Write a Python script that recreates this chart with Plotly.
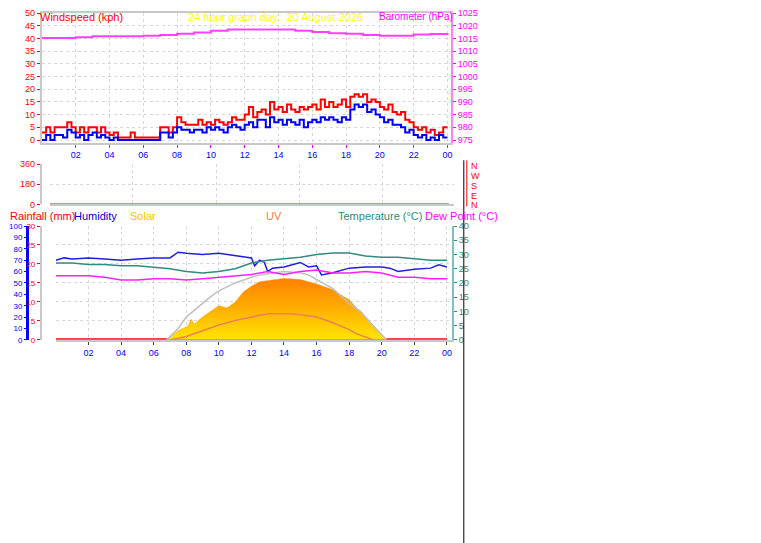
import plotly.graph_objects as go

# ---- data -------------------------------------------------------------
wind_hours = [i / 4 for i in range(97)]
gust = [3, 5, 3, 5, 5, 5, 7, 5, 3, 5, 3, 5, 5, 3, 5, 3, 2, 3, 1, 1, 1, 3, 1, 1,
        1, 1, 1, 1, 5, 5, 3, 5, 9, 7, 6, 6, 6, 8, 6, 7, 6, 8, 7, 6, 7, 9, 8, 8,
        10, 13, 9, 11, 12, 10, 15, 12, 13, 11, 14, 12, 11, 13, 12, 13, 14, 12, 16, 13,
        15, 13, 14, 16, 13, 17, 18, 17, 18, 15, 16, 15, 13, 12, 14, 11, 10, 11, 8, 7,
        5, 4, 5, 3, 4, 2, 3, 5, 5]
avg = [0, 2, 0, 2, 2, 1, 4, 3, 1, 2, 0, 2, 3, 1, 2, 1, 0, 1, 0, 0, 0, 0, 0, 0,
       0, 0, 0, 0, 3, 3, 1, 3, 5, 4, 4, 3, 4, 4, 3, 5, 4, 5, 4, 3, 5, 6, 5, 4,
       6, 7, 5, 8, 8, 5, 9, 7, 8, 6, 8, 7, 6, 8, 5, 7, 8, 7, 9, 8, 9, 8, 7, 9,
       8, 12, 14, 13, 14, 11, 12, 10, 9, 7, 8, 6, 6, 5, 3, 4, 2, 1, 2, 0, 1, 0, 2, 1, 1]

hours = list(range(25))
baro = [1015.2, 1015.2, 1015.5, 1015.8, 1015.8, 1015.8, 1016, 1016.3, 1016.8, 1017.3,
        1018, 1018.5, 1018.5, 1018.5, 1018.5, 1018, 1017.5, 1017, 1016.8, 1016.3,
        1016, 1016, 1016.5, 1016.7, 1016.3]
temp = [27, 27, 26.5, 26.5, 26, 26, 25.5, 25, 24, 23.5, 24, 25, 27, 28, 28.5, 29,
        30, 30.5, 30.5, 29.5, 29, 29, 28.5, 28, 28]
dew = [22.5, 22.5, 22.5, 22, 21, 21, 21.5, 21.5, 21, 21.5, 22, 22.5, 23, 24, 23,
       24, 24.5, 23.5, 23.5, 24, 23.5, 22, 22, 21.5, 21.5]
hum_hours = [0, 0.5, 1, 2, 3, 4, 5, 6, 7, 7.5, 8, 9, 10, 11, 12, 12.2, 12.5, 12.8,
             13, 13.3, 14, 15, 15.5, 16, 16.3, 17, 18, 19, 20, 20.5, 21, 22, 23, 23.5, 24]
humidity = [70, 72, 71, 72, 71, 70, 71, 72, 72, 77, 76, 75, 76, 74, 72, 65, 70, 68,
            60, 63, 64, 68, 64, 65, 57, 59, 63, 64, 64, 63, 60, 62, 63, 66, 64]
solar_hours = [0, 6.8, 7.5, 8.1, 8.3, 8.5, 9, 9.5, 10, 10.5, 11, 11.5, 12, 12.5,
               13.5, 14, 15, 16, 17, 18, 19, 20, 20.3, 24]
solar = [0, 0, 8, 12, 18, 14, 20, 25, 30, 28, 33, 42, 47, 51, 53, 54, 53, 49, 44,
         35, 20, 5, 0, 0]
max_hours = [6.8, 7.5, 8, 9, 9.5, 10, 11, 12, 12.5, 13, 14, 15, 15.5, 16, 17, 18,
             18.7, 19.5, 20.3]
solar_max = [0, 10, 20, 32, 38, 43, 50, 55, 57, 58, 60, 59, 57, 53, 45, 32, 25, 12, 0]
uv_hours = [7, 8, 9, 10, 11, 12, 13, 14, 14.5, 15, 16, 17, 18, 18.5, 19.5]
uv = [0, 3, 8, 13, 17, 20, 23, 23, 23, 22, 20, 15, 9, 5, 0]
rain_hours = [0, 24]
rain = [0, 0]
dir_hours = [0, 24]
wind_dir = [0, 0]

# ---- styling -------------------------------------------------------------
W, H = 761, 543
OFF = 8          # page body margin around the plot div
FONT = "Liberation Sans"
GRID = "#D8D8D8"
AXL = "#C8C8C8"


def px(x):
    return min(max((x - OFF) / W, 0), 1)


def py(y):
    return min(max(1 - (y - OFF) / H, 0), 1)


xtick = dict(tickvals=list(range(2, 25, 2)),
             ticktext=["02", "04", "06", "08", "10", "12", "14", "16", "18", "20", "22", "00"],
             tickfont=dict(color="#0000FF", size=9, family=FONT))

fig = go.Figure()


def line(x, y, color, width, xa, ya, shape="linear"):
    fig.add_trace(go.Scatter(x=x, y=y, mode="lines",
                             line=dict(color=color, width=width, shape=shape),
                             xaxis=xa, yaxis=ya))


# top panel: wind + barometer
line(wind_hours, gust, "#FF0000", 2, "x", "y", "hv")
line(wind_hours, avg, "#0000FF", 2, "x", "y", "hv")
line(hours, baro, "#FF40FF", 2, "x", "y2", "hv")

# wind direction panel
line(dir_hours, wind_dir, "#D09090", 3, "x2", "y3")

# bottom panel
fig.add_trace(go.Scatter(x=solar_hours, y=solar, mode="lines", line=dict(color="#FF9900", width=0.5),
                         fill="tozeroy",
                         fillgradient=dict(type="vertical",
                                           colorscale=[[0, "#FFE600"], [0.5, "#FFB000"], [1, "#FF8000"]]),
                         xaxis="x3", yaxis="y4"))
line(max_hours, solar_max, "#C0C0C0", 1.5, "x3", "y4")
line(uv_hours, uv, "#F08050", 1.5, "x3", "y4")
line(hum_hours, humidity, "#2020E0", 1.5, "x3", "y4")
line(hours, temp, "#2E8B80", 1.5, "x3", "y6")
line(hours, dew, "#FF20FF", 1.5, "x3", "y6")
line(rain_hours, rain, "#FF0000", 3, "x3", "y5")

ax = dict(showgrid=True, gridcolor=GRID, griddash="dot", zeroline=False,
          showline=True, linecolor=AXL, linewidth=2, ticks="outside", ticklen=3)

fig.update_layout(
    width=W, height=H, margin=dict(l=0, r=0, t=0, b=0),
    paper_bgcolor="white", plot_bgcolor="white", showlegend=False,
    font=dict(family=FONT, size=9),
    xaxis=dict(domain=[px(42), px(452)], range=[0, 24.2], anchor="y", mirror=True,
               tickcolor="#FF00FF", **xtick, **ax),
    yaxis=dict(domain=[py(140), py(8)], range=[-1, 50], dtick=5, tickcolor="#FF0000",
               tickfont=dict(color="#FF0000", size=9), **ax),
    yaxis2=dict(overlaying="y", side="right", anchor="x", range=[974, 1025], dtick=5,
                showgrid=False, showline=True, linecolor="#FF80FF", linewidth=2,
                ticks="outside", ticklen=3, tickcolor="#FF00FF",
                tickfont=dict(color="#FF00FF", size=9)),
    xaxis2=dict(domain=[px(50), px(455)], range=[0, 24.3], anchor="y3", showticklabels=False,
                **{k: v for k, v in ax.items() if k != "ticks"}),
    yaxis3=dict(domain=[py(203), py(162)], range=[0, 360], tickvals=[0, 180, 360],
                tickfont=dict(color="#FF0000", size=9), tickcolor="#FF0000", **ax),
    xaxis3=dict(domain=[px(56), px(453)], range=[0, 24.3], anchor="y5", **xtick, **ax),
    yaxis4=dict(overlaying="y5", anchor="free", position=px(27), range=[0, 100], dtick=10,
                showgrid=False, showline=True, linecolor="#0000FF", linewidth=3,
                ticks="outside", ticklen=2, tickcolor="#0000FF",
                tickfont=dict(color="#0000FF", size=8)),
    yaxis5=dict(domain=[py(341), py(225)], range=[0, 30], dtick=5,
                tickfont=dict(color="#FF0000", size=8), tickcolor="#FF0000", **ax),
    yaxis6=dict(overlaying="y5", side="right", anchor="x3", range=[0, 40], dtick=5,
                showgrid=False, showline=True, linecolor="#80C0C0", linewidth=2,
                ticks="outside", ticklen=3, tickcolor="#2E8B80",
                tickfont=dict(color="#2E8B80", size=9)),
)

labels = [
    (38, 12, "Windspeed (kph)", "#FF0000", 11),
    (186, 12, "24 hour graph day : 20 August 2026", "#FFFF00", 11),
    (378, 12, "Barometer (hPa)", "#FF00FF", 10),
    (0, 215, "Rainfall (mm)", "#FF0000", 11),
    (72, 215, "Humidity", "#0000CC", 11),
    (128, 215, "Solar", "#FFC000", 11),
    (265, 215, "UV", "#F08040", 11),
    (337, 215, "Temperature (°C)", "#2E8B80", 11),
    (424, 215, "Dew Point (°C)", "#FF00FF", 11),
]
for x, y, t, c, s in labels:
    fig.add_annotation(x=px(x), y=py(y), xref="paper", yref="paper", text=t,
                       showarrow=False, xanchor="left", yanchor="middle",
                       font=dict(color=c, size=s, family=FONT))

for i, ch in enumerate("NWSEN"):
    fig.add_annotation(x=px(470), y=py(164 + i * 10), xref="paper", yref="paper", text=ch,
                       showarrow=False, xanchor="left", yanchor="middle",
                       font=dict(color="#FF0000", size=9, family=FONT))

fig.add_shape(type="line", xref="paper", yref="paper", x0=px(465), x1=px(465), y0=0,
              y1=py(158), line=dict(color="black", width=1))
fig.add_shape(type="line", xref="paper", yref="paper", x0=px(468), x1=px(468), y0=py(205),
              y1=py(158), line=dict(color="#FF0000", width=1))

fig.write_html("out.html")
